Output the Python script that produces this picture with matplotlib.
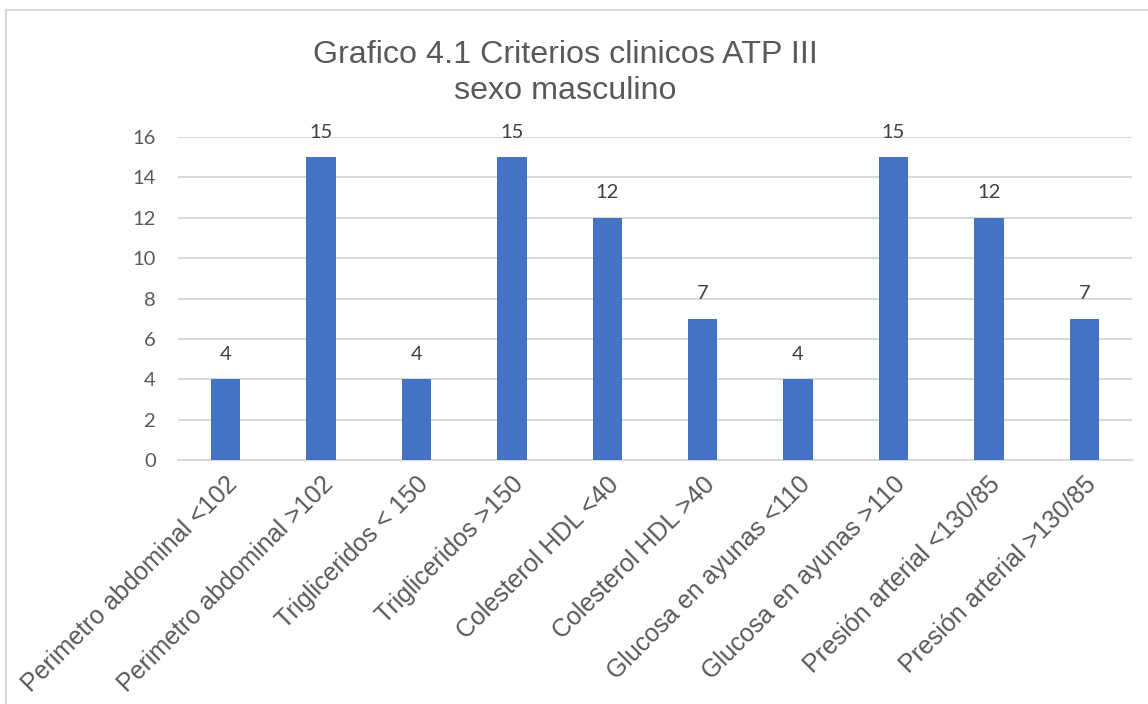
import matplotlib.pyplot as plt
from matplotlib.lines import Line2D
from matplotlib.transforms import ScaledTranslation
import numpy as np

categorias = ["Perimetro abdominal <102", "Perimetro abdominal >102",
              "Trigliceridos < 150", "Trigliceridos >150",
              "Colesterol HDL <40", "Colesterol HDL >40",
              "Glucosa en ayunas <110", "Glucosa en ayunas >110",
              "Presión arterial <130/85", "Presión arterial >130/85"]
valores = [4, 15, 4, 15, 12, 7, 4, 15, 12, 7]
y_ticks = [0, 2, 4, 6, 8, 10, 12, 14, 16]

gris = "#595959"
azul = "#4472C4"

fig = plt.figure(figsize=(11.48, 7.04), dpi=100)
W, H = 1148, 704
ax = fig.add_axes([178 / W, 1 - 460 / H, (1132 - 178) / W, (460 - 137) / H])

x = np.arange(len(categorias))
bars = ax.bar(x, valores, width=0.31, color=azul, zorder=3)
for xi, v in zip(x, valores):
    ax.annotate(str(v), (xi, v), xytext=(0, 18), textcoords="offset points",
                ha="center", va="center", fontsize=14.5, color="#404040",
                family="Lato")

ax.set_xlim(-0.5, len(categorias) - 0.5)
ax.set_ylim(0, 16)
ax.set_yticks(y_ticks)
ax.set_yticklabels([str(t) for t in y_ticks], family="Lato", fontsize=14.5, color=gris)
ax.grid(axis="y", color="#D9D9D9", linewidth=1.5, zorder=0)
ax.tick_params(axis="both", length=0)
ax.tick_params(axis="y", pad=16)
for s in ["top", "right", "left"]:
    ax.spines[s].set_visible(False)
ax.spines["bottom"].set_color("#D9D9D9")
ax.spines["bottom"].set_linewidth(1.5)

ax.set_xticks(x)
ax.set_xticklabels(categorias, rotation=45, ha="right", va="center",
                   rotation_mode="anchor", family="Liberation Sans",
                   fontsize=18, color=gris)
ax.tick_params(axis="x", pad=15)
desplazar = ScaledTranslation(8 / 100, 0, fig.dpi_scale_trans)
for lbl in ax.get_xticklabels():
    lbl.set_transform(lbl.get_transform() + desplazar)

fig.text(565 / W, 1 - 73 / H, "Grafico 4.1 Criterios clinicos ATP III\nsexo masculino",
         ha="center", va="center", fontsize=23.2, color=gris,
         family="Liberation Sans", linespacing=1.28)

# marco del grafico
fig.add_artist(Line2D([6 / W, 1], [1 - 10 / H, 1 - 10 / H], color="#D9D9D9", linewidth=1.5))
fig.add_artist(Line2D([6 / W, 6 / W], [1 - 10 / H, 0], color="#D9D9D9", linewidth=1.5))

fig.savefig("out.png", dpi=100)
